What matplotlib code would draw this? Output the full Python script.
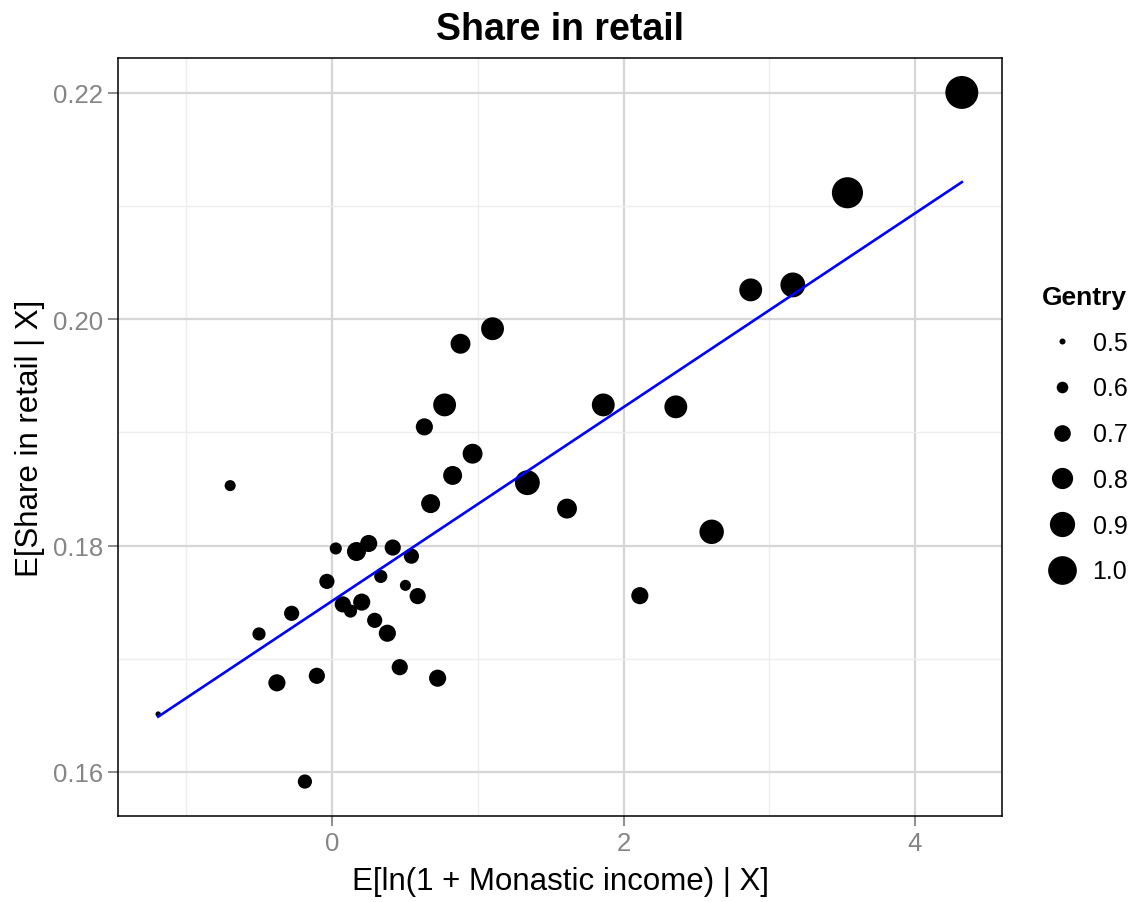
import matplotlib
matplotlib.use("Agg")
import matplotlib.pyplot as plt
from matplotlib.lines import Line2D
import numpy as np

# values
monastic = [-0.70, 0.025, 0.167, 0.251, 0.416, 0.544, -0.036, 0.334, 0.503, 0.587,
            0.073, 0.203, 0.126, -0.278, -0.502, 0.292, 0.379, -0.379, -0.105, 0.464,
            0.724, -1.194, -0.187, 0.676, 0.827, 0.964, 0.881, 1.101, 0.772, 0.633,
            1.340, 1.612, 1.861, 2.359, 2.605, 2.112, 2.873, 3.162, 3.537, 4.322]
retail = [0.18529, 0.17974, 0.17947, 0.18018, 0.17982, 0.17906, 0.17683, 0.17727, 0.17648, 0.17553,
          0.17480, 0.17500, 0.17421, 0.17401, 0.17219, 0.17339, 0.17225, 0.16787, 0.16849, 0.16925,
          0.16828, 0.16511, 0.15915, 0.18370, 0.18619, 0.18811, 0.19782, 0.19915, 0.19242, 0.19048,
          0.18555, 0.18326, 0.19242, 0.19225, 0.18121, 0.17557, 0.20258, 0.20302, 0.21116, 0.22002]
gentry = [0.59, 0.61, 0.75, 0.71, 0.69, 0.67, 0.67, 0.63, 0.59, 0.69,
          0.69, 0.71, 0.63, 0.67, 0.63, 0.67, 0.71, 0.71, 0.69, 0.69,
          0.71, 0.49, 0.65, 0.75, 0.75, 0.77, 0.77, 0.84, 0.84, 0.71,
          0.89, 0.77, 0.84, 0.84, 0.88, 0.71, 0.84, 0.89, 1.08, 1.15]
legend_breaks = [0.5, 0.6, 0.7, 0.8, 0.9, 1.0]
fit_intercept = 0.1751
fit_slope = 0.00856

DPI = 100


def dot_diam(g):
    # diameter in points for a gentry value
    u = np.asarray(g) - 0.5
    px = 6 + 58.6 * u - 26.4 * u ** 2
    return px * 72 / DPI


plt.rcParams["font.family"] = ["Liberation Sans", "DejaVu Sans"]

fig = plt.figure(figsize=(11.36, 9.03), dpi=DPI)
ax = fig.add_axes([118 / 1136, 86 / 903, 884 / 1136, 758 / 903])

x = np.array(monastic)
y = np.array(retail)
ax.scatter(x, y, s=dot_diam(gentry) ** 2, color="black", edgecolors="none", zorder=3)

xl = np.array([x.min(), x.max()])
ax.plot(xl, fit_intercept + fit_slope * xl, color="#0000FF", lw=1.9, zorder=4)

xr = x.max() - x.min()
yr = y.max() - y.min()
ax.set_xlim(x.min() - 0.05 * xr, x.max() + 0.05 * xr)
ax.set_ylim(y.min() - 0.05 * yr, y.max() + 0.05 * yr)

ax.set_xticks([0, 2, 4])
ax.set_xticks([-1, 1, 3], minor=True)
ax.set_yticks([0.16, 0.18, 0.20, 0.22])
ax.set_yticks([0.17, 0.19, 0.21], minor=True)
ax.set_yticklabels(["0.16", "0.18", "0.20", "0.22"])
ax.grid(which="major", color="#d6d6d6", lw=1.6)
ax.grid(which="minor", color="#eeeeee", lw=1.0)
ax.set_axisbelow(True)
ax.tick_params(which="major", length=7.5, width=1.2, color="#7a7a7a",
               labelsize=18.5, labelcolor="#858585", pad=3)
ax.tick_params(which="minor", length=0)
for sp in ax.spines.values():
    sp.set_color("black")
    sp.set_linewidth(1.1)

fig.text(560 / 1136, 1 - 40 / 903, "Share in retail", ha="center", va="baseline",
         fontsize=27, fontweight="bold")
fig.text(560 / 1136, 1 - 890 / 903, "E[ln(1 + Monastic income) | X]", ha="center",
         va="baseline", fontsize=22.5)
fig.text(30 / 1136, 1 - 438 / 903, "E[Share in retail | X]", ha="center", va="center",
         rotation=90, fontsize=22.5)

handles = [Line2D([], [], ls="none", marker="o", color="black", markeredgewidth=0,
                  markersize=float(dot_diam(b))) for b in legend_breaks]
leg = fig.legend(handles, [f"{b:.1f}" for b in legend_breaks], title="Gentry",
                 loc="upper left", bbox_to_anchor=(1041.5 / 1136, 1 - 286 / 903),
                 frameon=False, fontsize=18, title_fontproperties={"weight": "bold", "size": 19},
                 borderpad=0, borderaxespad=0, handlelength=1.6, handletextpad=0.44,
                 labelspacing=0.87)
leg._legend_box.align = "left"

fig.savefig("out.png", dpi=DPI)
